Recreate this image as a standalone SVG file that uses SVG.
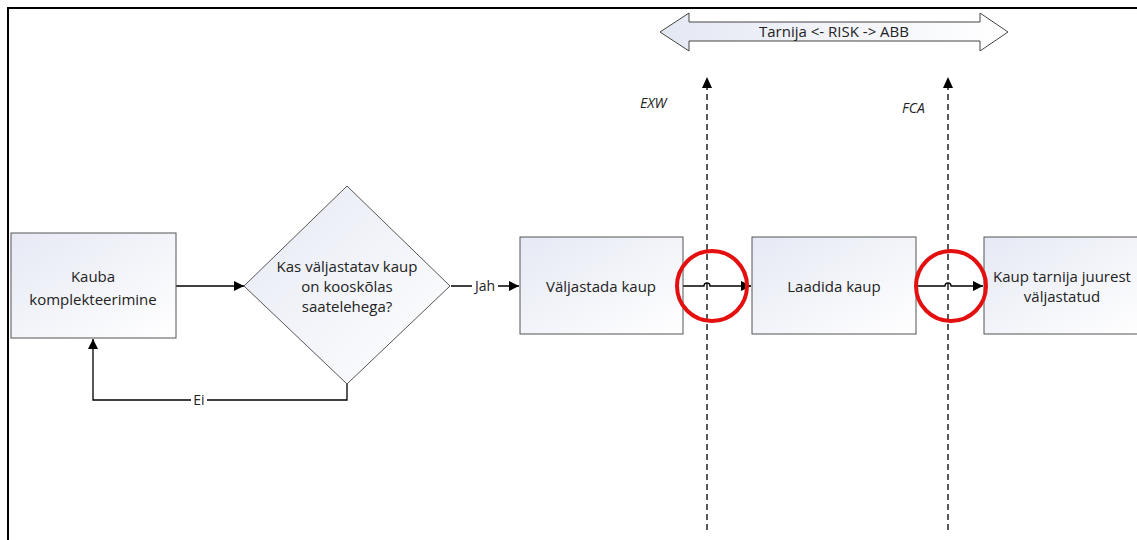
<svg xmlns="http://www.w3.org/2000/svg" width="1137" height="540" viewBox="0 0 1137 540">
  <defs>
    <linearGradient id="boxFill" x1="0" y1="0" x2="1" y2="1">
      <stop offset="0" stop-color="#e6e9f4"/>
      <stop offset="1" stop-color="#ffffff"/>
    </linearGradient>
    <linearGradient id="bandFill" x1="0" y1="0" x2="1" y2="0">
      <stop offset="0" stop-color="#e4e8f3"/>
      <stop offset="1" stop-color="#ffffff"/>
    </linearGradient>
    <marker id="arrow" viewBox="0 0 10 10" refX="10" refY="5" markerWidth="10" markerHeight="10" markerUnits="userSpaceOnUse" orient="auto">
      <path d="M0,0 L10,5 L0,10 Z" fill="#000"/>
    </marker>
  </defs>
  <style>
    .box { fill: url(#boxFill); stroke: #555; stroke-width: 1; }
    .lbl { font-family: "Open Sans", "Liberation Sans", sans-serif; font-size: 15px; fill: #222; text-anchor: middle; }
    .small { font-family: "Open Sans", "Liberation Sans", sans-serif; font-size: 14px; fill: #222; text-anchor: middle; }
    .ital { font-family: "Open Sans", "Liberation Sans", sans-serif; font-size: 14px; font-style: italic; fill: #222; }
    .flow { fill: none; stroke: #000; stroke-width: 1.3; }
    .dash { fill: none; stroke: #222; stroke-width: 1.5; stroke-dasharray: 6 4; }
    .ring { fill: none; stroke: #e41010; stroke-width: 4; }
  </style>

  <!-- page frame -->
  <path d="M8,540 V8 H1137" fill="none" stroke="#000" stroke-width="2"/>

  <!-- risk transfer band -->
  <g id="risk-band">
    <path d="M660,32 L689,13 L689,22 L980,22 L980,13 L1008,32 L980,51 L980,41 L689,41 L689,51 Z" fill="url(#bandFill)" stroke="#444" stroke-width="1"/>
    <text class="lbl" x="834" y="37">Tarnija &lt;- RISK -&gt; ABB</text>
  </g>

  <!-- connectors -->
  <g id="connectors">
    <path class="flow" d="M176,286 H244" marker-end="url(#arrow)"/>
    <path class="flow" d="M451,286 H519" marker-end="url(#arrow)"/>
    <rect x="472" y="278" width="26" height="16" fill="#fff"/>
    <text class="small" x="485" y="291">Jah</text>
    <path class="flow" d="M347,384 V400 H93 V339" marker-end="url(#arrow)"/>
    <rect x="191" y="392" width="16" height="16" fill="#fff"/>
    <text class="small" x="199" y="405">Ei</text>
    <path class="flow" d="M683,286 H704 A3,3 0 0 1 710,286 H751" marker-end="url(#arrow)"/>
    <path class="flow" d="M916,286 H945 A3,3 0 0 1 951,286 H983" marker-end="url(#arrow)"/>
  </g>

  <!-- Incoterm boundaries -->
  <g id="exw-line">
    <path class="dash" d="M707,530 V88"/>
    <path d="M707,77 L702,88 L712,88 Z" fill="#000"/>
    <text class="ital" x="640" y="108">EXW</text>
  </g>
  <g id="fca-line">
    <path class="dash" d="M948,530 V88"/>
    <path d="M948,77 L943,88 L953,88 Z" fill="#000"/>
    <text class="ital" x="902" y="113">FCA</text>
  </g>

  <!-- nodes -->
  <g id="kauba-komplekteerimine">
    <rect class="box" x="11" y="233" width="165" height="105"/>
    <text class="lbl" x="93" y="282">Kauba</text>
    <text class="lbl" x="93" y="305">komplekteerimine</text>
  </g>
  <g id="kontroll">
    <path d="M347,186 L450,286 L347,384 L244,286 Z" fill="url(#boxFill)" stroke="#555" stroke-width="1"/>
    <text class="lbl" x="347" y="272">Kas väljastatav kaup</text>
    <text class="lbl" x="347" y="292">on kooskõlas</text>
    <text class="lbl" x="347" y="312">saatelehega?</text>
  </g>
  <g id="valjastada-kaup">
    <rect class="box" x="520" y="237" width="163" height="97"/>
    <text class="lbl" x="601" y="292">Väljastada kaup</text>
  </g>
  <g id="laadida-kaup">
    <rect class="box" x="752" y="237" width="164" height="97"/>
    <text class="lbl" x="834" y="292">Laadida kaup</text>
  </g>
  <g id="kaup-valjastatud">
    <rect class="box" x="984" y="237" width="160" height="97"/>
    <text class="lbl" x="1062" y="282">Kaup tarnija juurest</text>
    <text class="lbl" x="1062" y="302">väljastatud</text>
  </g>

  <!-- highlight rings -->
  <g id="highlights">
    <circle class="ring" cx="712" cy="286" r="35"/>
    <circle class="ring" cx="951" cy="286" r="35"/>
  </g>
</svg>
